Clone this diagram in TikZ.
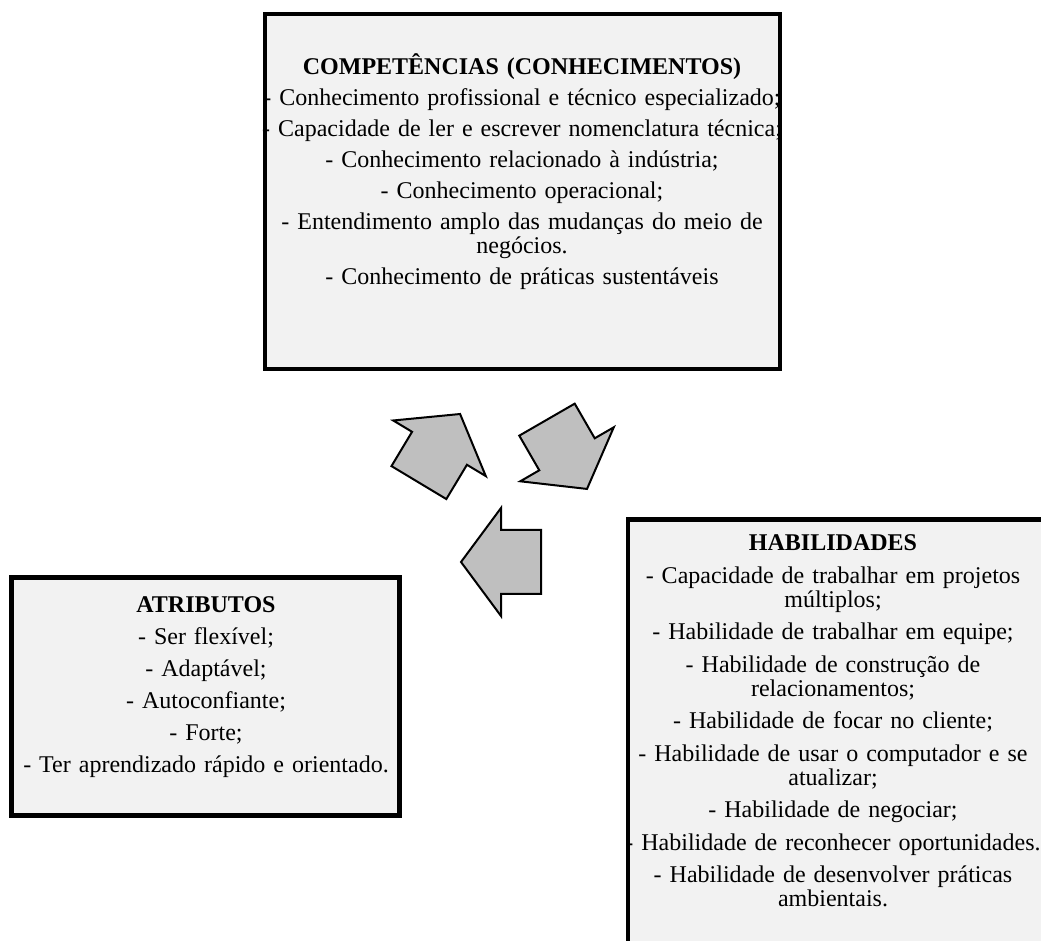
\documentclass[tikz,border=0pt]{standalone}
\usepackage{fontspec}
\setmainfont{Liberation Serif}
\usetikzlibrary{positioning}
\definecolor{fundo}{HTML}{F2F2F2}
\definecolor{cinza}{HTML}{BFBFBF}
\newcommand{\fonte}{\fontsize{24}{24}\selectfont\baselineskip=24pt\lineskiplimit=-50pt\relax}
\tikzset{caixa/.style={rectangle,draw=black,line width=4.5pt,fill=fundo,inner sep=0pt}}
\tikzset{texto/.style={anchor=base,align=center,inner sep=0pt,font=\fonte}}
\tikzset{seta/.style={draw=black,line width=2pt,fill=cinza}}

\begin{document}
\begin{tikzpicture}[x=1pt,y=1pt]
% \draw[help lines,step=50] (0,0) grid (1041,940);
\useasboundingbox (0,0) rectangle (1041,940);
\clip (0,0) rectangle (1041,940);
%
\node (comp) [caixa,minimum width=515pt,minimum height=355pt] at (522.5,748.5) {};
\node (atr) [caixa,minimum width=388pt,minimum height=238pt] at (205.5,243.5) {};
\node (hab) [caixa,minimum width=420pt,minimum height=440pt,anchor=north west] at (625.5,422.5) {};
%
\node (comptxt) [texto,text width=520pt] at (522,865) {\fonte\textbf{COMPETÊNCIAS (CONHECIMENTOS)}\\[7pt]
- Conhecimento profissional e técnico especializado;\\[7pt]
- Capacidade de ler e escrever nomenclatura técnica;\\[7pt]
- Conhecimento relacionado à indústria;\\[7pt]
- Conhecimento operacional;\\[7pt]
- Entendimento amplo das mudanças do meio de\\negócios.\\[7pt]
- Conhecimento de práticas sustentáveis};
\node (atrtxt) [texto,text width=390pt] at (206,327) {\fonte\textbf{ATRIBUTOS}\\[8pt]
- Ser flexível;\\[8pt]
- Adaptável;\\[8pt]
- Autoconfiante;\\[8pt]
- Forte;\\[8pt]
- Ter aprendizado rápido e orientado.};
\node (habtxt) [texto,text width=420pt] at (833,389) {\fonte\textbf{HABILIDADES}\\[8.5pt]
- Capacidade de trabalhar em projetos\\múltiplos;\\[8.5pt]
- Habilidade de trabalhar em equipe;\\[8.5pt]
- Habilidade de construção de\\relacionamentos;\\[8.5pt]
- Habilidade de focar no cliente;\\[8.5pt]
- Habilidade de usar o computador e se\\atualizar;\\[8.5pt]
- Habilidade de negociar;\\[8.5pt]
- Habilidade de reconhecer oportunidades.\\[8.5pt]
- Habilidade de desenvolver práticas\\ambientais.};
%
\foreach \cx/\cy/\d in {439.5/491.7/59, 567/485.7/-60, 501/378/180}{
  \begin{scope}[shift={(\cx,\cy)},rotate=\d]
    \draw[seta] (-40,-32) -- (0,-32) -- (0,-54) -- (40,0) -- (0,54) -- (0,32) -- (-40,32) -- cycle;
  \end{scope}
}
\end{tikzpicture}
\end{document}
